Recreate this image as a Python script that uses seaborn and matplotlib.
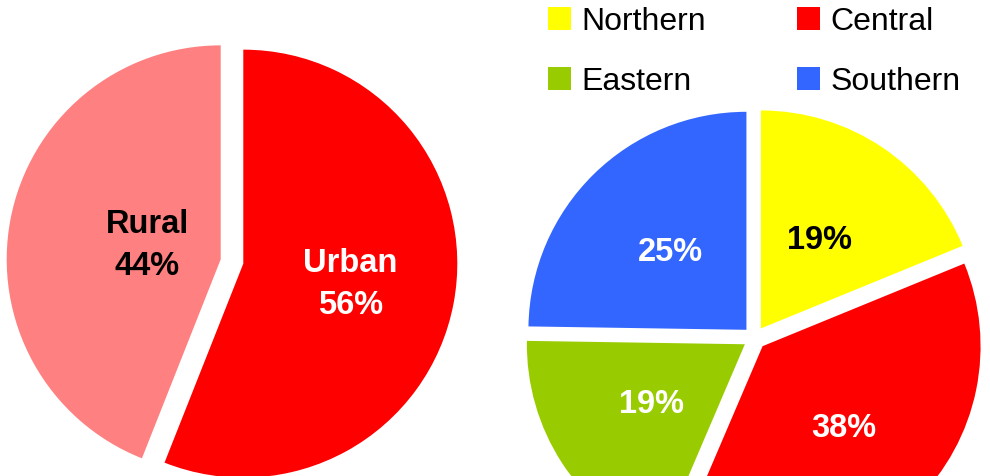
import matplotlib
matplotlib.use("Agg")
import matplotlib.pyplot as plt
import seaborn as sns

# left pie: area type
area_names = ["Urban", "Rural"]
area_share = [56, 44]
area_colors = ["#FF0000", "#FF8080"]
area_text_colors = ["white", "black"]

# right pie: regions
region_names = ["Northern", "Central", "Eastern", "Southern"]
region_share = [19, 38, 19, 25]
region_colors = ["#FFFF00", "#FF0000", "#99CC00", "#3366FF"]
region_text_colors = ["black", "white", "white", "white"]

W, H = 990, 476


def move_texts(wedges, texts, dists, pctdistance):
    # push each label along its wedge direction to its own distance
    for w, t, d in zip(wedges, texts, dists):
        cx, cy = w.center
        tx, ty = t.get_position()
        k = d / pctdistance
        t.set_position((cx + (tx - cx) * k, cy + (ty - cy) * k))


def main():
    fig = plt.figure(figsize=(W / 100, H / 100), dpi=100)
    ax = fig.add_axes([0, 0, 1, 1])

    text_style = dict(fontsize=23.5, fontweight="bold")

    # left pie
    wedges, _, autotexts = ax.pie(
        area_share, colors=area_colors, startangle=90, counterclock=False,
        explode=[11.5, 11.5], radius=214, center=(232, H - 261.5),
        autopct="%1.0f%%", pctdistance=0.5, textprops=text_style,
        wedgeprops=dict(linewidth=0))
    for t, name, c in zip(autotexts, area_names, area_text_colors):
        t.set_text(name + "\n" + t.get_text())
        t.set_color(c)
        t.set_linespacing(1.45)
    move_texts(wedges, autotexts, [0.51, 0.35], 0.5)

    # right pie
    r_wedges, _, r_autotexts = ax.pie(
        region_share, colors=region_colors, startangle=90, counterclock=False,
        explode=[11.5] * 4, radius=218, center=(754.5, H - 338),
        autopct="%1.0f%%", pctdistance=0.5, textprops=text_style,
        wedgeprops=dict(linewidth=0))
    for t, c in zip(r_autotexts, region_text_colors):
        t.set_color(c)
    move_texts(r_wedges, r_autotexts, [0.485, 0.53, 0.51, 0.5], 0.5)

    ax.set_xlim(0, W)
    ax.set_ylim(0, H)
    ax.set_aspect("auto")
    ax.axis("off")

    # legend in two columns, filled column-wise
    order = [0, 2, 1, 3]
    ax.legend([r_wedges[i] for i in order], [region_names[i] for i in order],
              ncol=2, loc="upper left", bbox_to_anchor=(548, H - 7),
              bbox_transform=ax.transData, frameon=False, fontsize=23,
              labelcolor="black",
              handlelength=0.72, handleheight=0.72, handletextpad=0.32,
              columnspacing=2.85, labelspacing=0.94, borderpad=0,
              borderaxespad=0)

    fig.savefig("out.png", dpi=100)


if __name__ == "__main__":
    sns.set_theme(style="white")
    plt.rcParams["font.family"] = ["Liberation Sans", "DejaVu Sans"]
    main()
